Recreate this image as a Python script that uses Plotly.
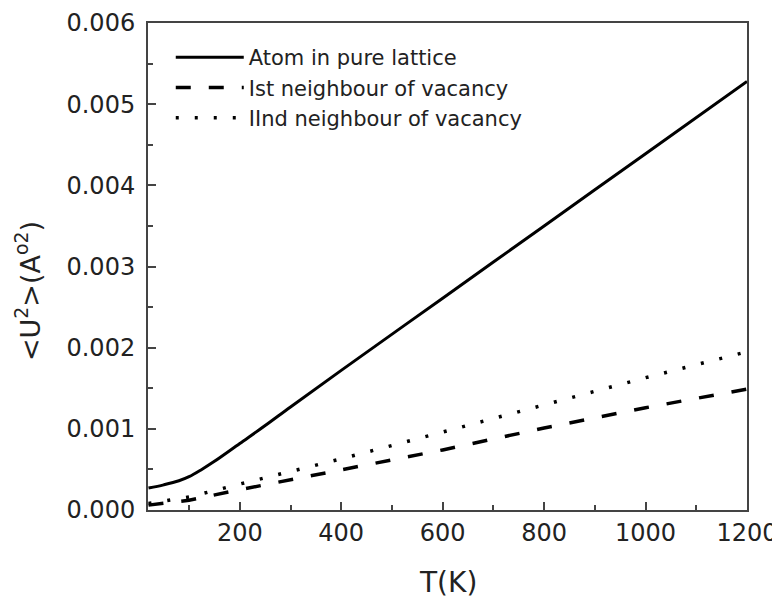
import plotly.graph_objects as go

# Temperature (K)
T_solid = [20, 50, 80, 100, 125, 150, 200, 250, 300, 400, 600, 800, 1000, 1200]
U_solid = [0.00027, 0.00031, 0.00036, 0.00041, 0.00050, 0.00060, 0.00082, 0.00104,
           0.00127, 0.00172, 0.00261, 0.00350, 0.00439, 0.00528]

T_vac = [20, 100, 200, 400, 600, 800, 1000, 1200]
U_first = [0.00006, 0.00012, 0.00025, 0.00049, 0.00074, 0.00101, 0.00126, 0.00149]
U_second = [0.00008, 0.00016, 0.00032, 0.00063, 0.00096, 0.00130, 0.00163, 0.00195]

names = ["Atom in pure lattice", "Ist neighbour of vacancy", "IInd neighbour of vacancy"]

x_ticks = [200, 400, 600, 800, 1000, 1200]
y_ticks = [0.000, 0.001, 0.002, 0.003, 0.004, 0.005, 0.006]

fig = go.Figure()
fig.add_trace(go.Scatter(x=T_solid, y=U_solid, mode="lines", name=names[0],
                         line=dict(color="black", width=3, shape="spline", smoothing=1.0)))
fig.add_trace(go.Scatter(x=T_vac, y=U_first, mode="lines", name=names[1],
                         line=dict(color="black", width=3.5, dash="15px,18px")))
fig.add_trace(go.Scatter(x=T_vac, y=U_second, mode="lines", name=names[2],
                         line=dict(color="black", width=3.5, dash="3px,16px")))

axis_common = dict(
    showline=True, linecolor="#444", linewidth=2, mirror=True,
    ticks="inside", ticklen=8, tickwidth=2, tickcolor="#444",
    showgrid=False, zeroline=False, automargin=False,
    tickfont=dict(family="DejaVu Sans", size=24, color="#222"),
)

fig.update_layout(
    width=772, height=592,
    margin=dict(l=140, r=33, t=15, b=90, autoexpand=False),
    paper_bgcolor="white", plot_bgcolor="white",
    showlegend=True,
    legend=dict(x=0.038, y=0.971, xanchor="left", yanchor="top",
                bgcolor="rgba(0,0,0,0)", itemwidth=68,
                font=dict(family="DejaVu Sans", size=21, color="#222")),
    xaxis=dict(range=[19, 1200], tickvals=x_ticks,
               minor=dict(ticks="inside", ticklen=5, tickwidth=2, dtick=100, tickcolor="#444"),
               **axis_common),
    yaxis=dict(range=[0, 0.006], tickvals=y_ticks, tickformat=".3f",
               ticklabelstandoff=6,
               minor=dict(ticks="inside", ticklen=5, tickwidth=2, dtick=0.0005, tickcolor="#444"),
               **axis_common),
    annotations=[
        dict(text="&lt;U<sup>2</sup>&gt;(A<sup>o2</sup>)",
             xref="paper", yref="paper", x=-0.2, y=0.45,
             xanchor="center", yanchor="middle", textangle=-90, showarrow=False,
             font=dict(family="DejaVu Sans", size=27, color="#222")),
        dict(text="T(K)", xref="paper", yref="paper", x=0.5, y=-0.148,
             xanchor="center", yanchor="middle", showarrow=False,
             font=dict(family="DejaVu Sans", size=28, color="#222")),
    ],
)

fig.write_html("out.html")
